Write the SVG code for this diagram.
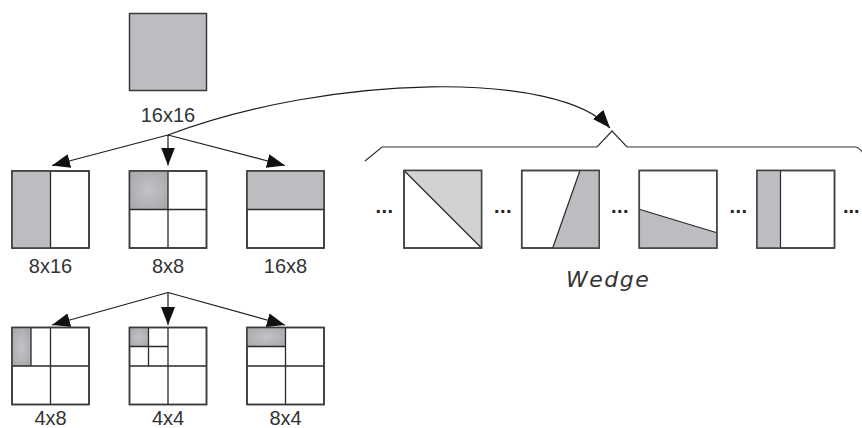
<svg xmlns="http://www.w3.org/2000/svg" width="862" height="428" viewBox="0 0 862 428">
<style>
.box{fill:#fff;stroke:#3a3a3a;stroke-width:1.5}
.gray{fill:#bcbdc0}
.light{fill:#d1d2d4}
.in{stroke:#2a2a2a;stroke-width:1.3;fill:none}
.edge{stroke:#1e1e1e;stroke-width:1.2;fill:none}
.lbl{font-family:"Liberation Sans",Arial,sans-serif;font-size:20px;fill:#333;text-anchor:middle}
.dots{font-family:"Liberation Sans",Arial,sans-serif;font-size:20px;font-weight:bold;fill:#222;text-anchor:middle;letter-spacing:0.5px}
.wedge{font-family:"DejaVu Sans","Liberation Sans",sans-serif;font-size:22px;font-style:italic;fill:#333;letter-spacing:1.5px}
</style>
<defs>
<marker id="ah" markerUnits="userSpaceOnUse" markerWidth="20" markerHeight="16" refX="18" refY="7" orient="auto">
<path d="M0,0 L18,7 L0,14 z" fill="#111"/>
</marker>
<radialGradient id="glow" cx="0.5" cy="0.5" r="0.6">
<stop offset="0" stop-color="#c2c3c5"/>
<stop offset="1" stop-color="#a9aaad"/>
</radialGradient>
</defs>

<g id="n16x16">
<rect class="gray" x="129.5" y="13.5" width="77" height="77" stroke="#3a3a3a" stroke-width="1.5"/>
<text class="lbl" x="168" y="121.5">16x16</text>
</g>

<g id="n8x16">
<rect class="box" x="12" y="171" width="77" height="77"/>
<rect class="gray" x="12" y="171" width="38.5" height="77"/>
<line class="in" x1="50.5" y1="171" x2="50.5" y2="248"/>
<rect x="12" y="171" width="77" height="77" fill="none" stroke="#3a3a3a" stroke-width="1.5"/>
<text class="lbl" x="50.5" y="272.5">8x16</text>
</g>

<g id="n8x8">
<rect class="box" x="129.5" y="171" width="77" height="77"/>
<rect x="129.5" y="171" width="38.5" height="38.5" fill="url(#glow)"/>
<path class="in" d="M168,171 V248 M129.5,209.5 H206.5"/>
<rect x="129.5" y="171" width="77" height="77" fill="none" stroke="#3a3a3a" stroke-width="1.5"/>
<text class="lbl" x="168" y="272.5">8x8</text>
</g>

<g id="n16x8">
<rect class="box" x="247" y="171" width="77" height="77"/>
<rect class="gray" x="247" y="171" width="77" height="38.5"/>
<path class="in" d="M247,209.5 H324"/>
<rect x="247" y="171" width="77" height="77" fill="none" stroke="#3a3a3a" stroke-width="1.5"/>
<text class="lbl" x="285.5" y="272.5">16x8</text>
</g>

<g id="n4x8">
<rect class="box" x="12" y="327.5" width="77" height="77"/>
<rect x="12" y="327.5" width="19" height="38.5" fill="url(#glow)"/>
<path class="in" d="M50.5,327.5 V404.5 M12,366 H89 M31,327.5 V366"/>
<rect x="12" y="327.5" width="77" height="77" fill="none" stroke="#3a3a3a" stroke-width="1.5"/>
<text class="lbl" x="50.5" y="424.5">4x8</text>
</g>

<g id="n4x4">
<rect class="box" x="129.5" y="327.5" width="77" height="77"/>
<rect x="129.5" y="327.5" width="19" height="19" fill="url(#glow)"/>
<path class="in" d="M168,327.5 V404.5 M129.5,366 H206.5 M148.5,327.5 V366 M129.5,346.5 H168"/>
<rect x="129.5" y="327.5" width="77" height="77" fill="none" stroke="#3a3a3a" stroke-width="1.5"/>
<text class="lbl" x="168" y="424.5">4x4</text>
</g>

<g id="n8x4">
<rect class="box" x="247" y="327.5" width="77" height="77"/>
<rect x="247" y="327.5" width="38.5" height="19" fill="url(#glow)"/>
<path class="in" d="M285.5,327.5 V404.5 M247,366 H324 M247,346.5 H285.5"/>
<rect x="247" y="327.5" width="77" height="77" fill="none" stroke="#3a3a3a" stroke-width="1.5"/>
<text class="lbl" x="285.5" y="424.5">8x4</text>
</g>

<g id="wedges">
<path d="M365,161 L382,147 L597,147 L612,131 L627,147 L855,147 Q859,147 863,153" fill="none" stroke="#333" stroke-width="1.2"/>
<g id="w1">
<rect class="box" x="404" y="170.5" width="77.5" height="77.5"/>
<path class="light" d="M404,170.5 L481.5,170.5 L481.5,248 z"/>
<line x1="404" y1="170.5" x2="481.5" y2="248" stroke="#2a2a2a" stroke-width="1.2"/>
<rect x="404" y="170.5" width="77.5" height="77.5" fill="none" stroke="#444" stroke-width="1.5"/>
</g>
<g id="w2">
<rect class="box" x="521.7" y="170.5" width="77.5" height="77.5"/>
<path class="gray" d="M580,170.5 L599.2,170.5 L599.2,248 L552.7,248 z"/>
<line x1="580" y1="170.5" x2="552.7" y2="248" stroke="#2a2a2a" stroke-width="1.2"/>
<rect x="521.7" y="170.5" width="77.5" height="77.5" fill="none" stroke="#444" stroke-width="1.5"/>
</g>
<g id="w3">
<rect class="box" x="639.3" y="170.5" width="77.5" height="77.5"/>
<path class="gray" d="M639.3,209.3 L716.8,232.7 L716.8,248 L639.3,248 z"/>
<line x1="639.3" y1="209.3" x2="716.8" y2="232.7" stroke="#2a2a2a" stroke-width="1.2"/>
<rect x="639.3" y="170.5" width="77.5" height="77.5" fill="none" stroke="#444" stroke-width="1.5"/>
</g>
<g id="w4">
<rect class="box" x="757" y="170.5" width="77.5" height="77.5"/>
<rect class="gray" x="757" y="170.5" width="23.5" height="77.5"/>
<line x1="780.5" y1="170.5" x2="780.5" y2="248" stroke="#2a2a2a" stroke-width="1.2"/>
<rect x="757" y="170.5" width="77.5" height="77.5" fill="none" stroke="#444" stroke-width="1.5"/>
</g>
<text class="dots" x="384.5" y="213">...</text>
<text class="dots" x="503" y="213">...</text>
<text class="dots" x="620" y="213">...</text>
<text class="dots" x="738.5" y="213">...</text>
<text class="dots" x="843" y="213" style="text-anchor:start;letter-spacing:0">...</text>
<text class="wedge" x="566" y="286.5">Wedge</text>
</g>

<g id="connectors">
<path class="edge" d="M168,135 L52,165.5" marker-end="url(#ah)"/>
<path class="edge" d="M168,135 L168,165.5" marker-end="url(#ah)"/>
<path class="edge" d="M168,135 L285,165.5" marker-end="url(#ah)"/>
<path class="edge" d="M168,292.5 L52,325" marker-end="url(#ah)"/>
<path class="edge" d="M168,292.5 L168,325" marker-end="url(#ah)"/>
<path class="edge" d="M168,292.5 L285,325" marker-end="url(#ah)"/>
<path class="edge" d="M168,135 C330,74 559,70 610,128" marker-end="url(#ah)"/>
</g>
</svg>
